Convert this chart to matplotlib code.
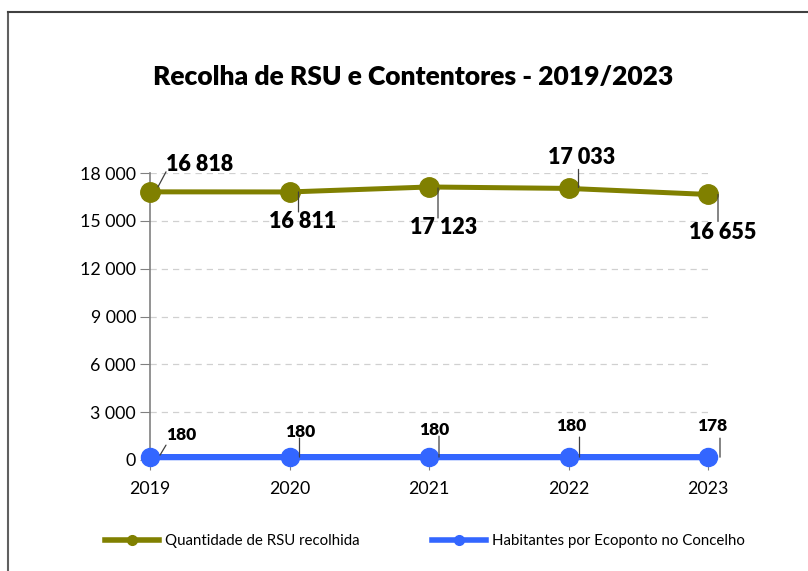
import matplotlib
matplotlib.use("Agg")
import matplotlib.pyplot as plt
from matplotlib.lines import Line2D
from matplotlib.transforms import offset_copy

plt.rcParams['font.family'] = ['Lato', 'DejaVu Sans']

# dados
anos = [2019, 2020, 2021, 2022, 2023]
rsu = [16818, 16811, 17123, 17033, 16655]
habitantes = [180, 180, 180, 180, 178]
yticks = [0, 3000, 6000, 9000, 12000, 15000, 18000]
titulo = "Recolha de RSU e Contentores - 2019/2023"
nome_rsu = "Quantidade de RSU recolhida"
nome_hab = "Habitantes por Ecoponto no Concelho"

cor_rsu = '#808000'
cor_hab = '#3366ff'

def fmt(v):
    return f"{v:,}".replace(",", " ")

fig = plt.figure(figsize=(8.08, 5.71), dpi=100)
ax = fig.add_axes([150/808, 1-460/571, 558/808, 287/571])

ax.plot(anos, rsu, color=cor_rsu, lw=3.6, marker='o', ms=14, clip_on=False, zorder=3)
ax.plot(anos, habitantes, color=cor_hab, lw=4.5, marker='o', ms=13, clip_on=False, zorder=3)

ax.set_xlim(2019, 2023)
ax.set_ylim(0, 18000)
ax.set_xticks(anos)
ax.set_yticks(yticks)
ax.set_yticklabels([fmt(v) for v in yticks])
ax.yaxis.grid(True, ls=(0, (5, 4)), color='#d0d0d0', lw=0.9)
ax.set_axisbelow(True)
for s in ['top', 'right', 'bottom']:
    ax.spines[s].set_visible(False)
ax.spines['left'].set_color('#808080')
ax.spines['left'].set_linewidth(1.2)
ax.tick_params(axis='y', length=7, color='#808080', labelsize=12.8, pad=3)
ax.tick_params(axis='x', length=7, color='#808080', labelsize=12.8, pad=8)

# rotulos com linhas de ligacao (deslocamentos em pixeis)
def rotulo(x, y, txt, linha, pos, size):
    (x1, y1), (x2, y2) = linha
    t1 = offset_copy(ax.transData, fig=fig, x=x1, y=y1, units='dots')
    t2 = offset_copy(ax.transData, fig=fig, x=x2, y=y2, units='dots')
    ax.annotate('', xy=(x, y), xycoords=t1, xytext=(x, y), textcoords=t2,
                arrowprops=dict(arrowstyle='-', color='#404040', lw=0.9,
                                shrinkA=0, shrinkB=0), annotation_clip=False)
    t3 = offset_copy(ax.transData, fig=fig, x=pos[0], y=pos[1], units='dots')
    ax.text(x, y, txt, transform=t3, ha='center', va='center',
            fontsize=size, fontweight='heavy', clip_on=False)

linhas_rsu = [((8, 5), (16, 20)), ((9, 0), (9, -20)), ((9, -1), (9, -31)),
              ((10, 1), (10, 19)), ((10, 0), (10, -27))]
pos_rsu = [(50, 27), (13, -30), (15, -41), (13, 31), (15, -38)]
linhas_hab = [((10, 2), (16, 12)), ((10, 0), (10, 19)), ((10, 0), (10, 21)),
              ((11, 0), (11, 20)), ((12, 0), (12, 19))]
pos_hab = [(31, 22), (11, 25), (5, 27), (3, 31), (4, 31)]

for i in range(len(anos)):
    rotulo(anos[i], rsu[i], fmt(rsu[i]), linhas_rsu[i], pos_rsu[i], 15.5)
    rotulo(anos[i], habitantes[i], fmt(habitantes[i]), linhas_hab[i], pos_hab[i], 12.5)

fig.text(413/808, 1-77/571, titulo, ha='center', va='center', fontsize=19, fontweight='heavy')

# moldura
fig.add_artist(Line2D([8/808, 8/808], [0, 1-12/571], color='#606060', lw=1.5))
fig.add_artist(Line2D([8/808, 1], [1-12/571, 1-12/571], color='#404040', lw=1.5))

handles = [Line2D([], [], color=cor_rsu, lw=4, marker='o', ms=7),
           Line2D([], [], color=cor_hab, lw=4, marker='o', ms=7)]
fig.legend(handles, [nome_rsu, nome_hab], loc='center', ncol=2, frameon=False,
           bbox_to_anchor=(425/808, 1-541/571), fontsize=10.8, handlelength=3.6,
           handletextpad=0.4, columnspacing=4.8)

fig.savefig('out.png', dpi=100)
